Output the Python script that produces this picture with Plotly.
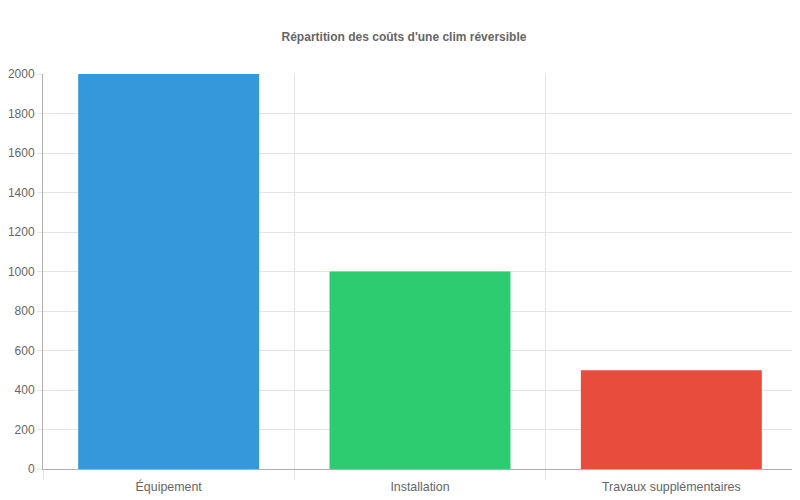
import plotly.graph_objects as go

categories = ["Équipement", "Installation", "Travaux supplémentaires"]
costs = [2000, 1000, 500]
bar_colors = ["#3498db", "#2ecc71", "#e74c3c"]

fig = go.Figure()
fig.add_bar(x=categories, y=costs, marker=dict(color=bar_colors, line=dict(width=0)), width=0.72)

# the page body has an 8px margin, so the figure is a bit smaller than the window
font = "Liberation Sans, Arial, sans-serif"
fig.update_layout(
    width=792, height=492,
    margin=dict(l=35, r=3, t=66, b=31),
    paper_bgcolor="white", plot_bgcolor="white",
    showlegend=False,
    font=dict(family=font, size=12, color="#666"),
    title=dict(text="<b>Répartition des coûts d'une clim réversible</b>",
               x=0.5, xanchor="center", y=1 - 29 / 492, yanchor="middle",
               font=dict(size=12, color="#666")),
)
fig.update_xaxes(
    range=[-0.5, 2.5], tickson="boundaries", ticks="outside", ticklen=10,
    tickcolor="#e5e5e5", showgrid=True, gridcolor="#e5e5e5", gridwidth=1,
    showline=True, linecolor="#b0b0b0", linewidth=1, automargin=False,
    ticklabelstandoff=6,
    tickfont=dict(size=12.4, color="#666"),
)
fig.update_yaxes(
    range=[0, 2000], dtick=200, ticks="outside", ticklen=5, tickcolor="#e5e5e5",
    showgrid=True, gridcolor="#e5e5e5", gridwidth=1, zeroline=False,
    showline=True, linecolor="#b0b0b0", linewidth=1, automargin=False,
    tickfont=dict(size=12, color="#666"),
)

fig.write_html("out.html")
